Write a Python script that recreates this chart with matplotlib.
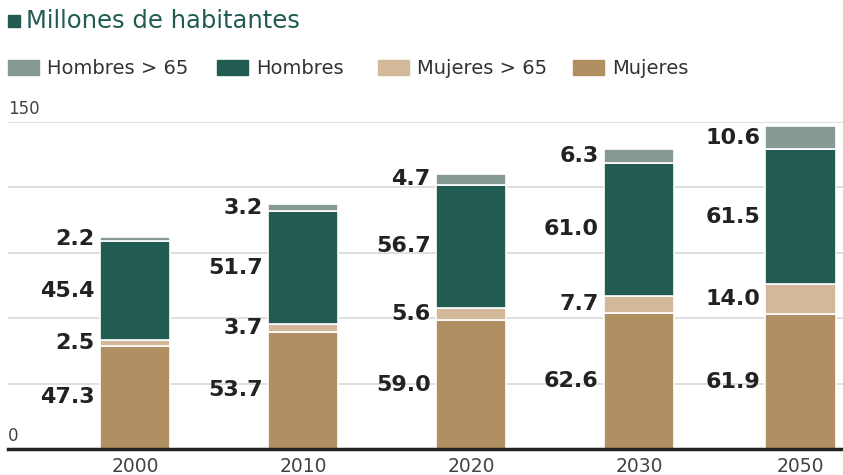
import numpy as np
import matplotlib.pyplot as plt
from matplotlib.patches import Rectangle

years = ["2000", "2010", "2020", "2030", "2050"]
mujeres = [47.3, 53.7, 59.0, 62.6, 61.9]
mujeres_65 = [2.5, 3.7, 5.6, 7.7, 14.0]
hombres = [45.4, 51.7, 56.7, 61.0, 61.5]
hombres_65 = [2.2, 3.2, 4.7, 6.3, 10.6]

series = [mujeres, mujeres_65, hombres, hombres_65]
names = ["Mujeres", "Mujeres > 65", "Hombres", "Hombres > 65"]
colors = ["#b08f62", "#d2b99a", "#215b52", "#869a93"]

plt.rcParams['font.family'] = ['DejaVu Sans']

fig = plt.figure(figsize=(8.43, 4.75), dpi=100)
ax = fig.add_axes([8/843, (475-449)/475, 835/843, (449-122)/475])

pos = np.array([0, 1, 2, 3, 3.96])
w = 0.42
bottom = np.zeros(len(years))
for vals, c in zip(series, colors):
    vals = np.array(vals)
    ax.bar(pos, vals, w, bottom=bottom, color=c, edgecolor="white", linewidth=1.2, zorder=3)
    for x, b, v in zip(pos, bottom, vals):
        ax.text(x - w/2 - 0.03, b + v/2, f"{v:.1f}", ha="right", va="center",
                fontsize=16, fontweight="bold", color="#222222", zorder=4)
    bottom += vals

ax.set_ylim(0, 150)
ax.set_xlim(-0.756, 4.214)
ax.set_yticks([0, 30, 60, 90, 120, 150])
ax.grid(axis="y", color="#d9d9d9", linewidth=1.2, zorder=0)
ax.tick_params(axis="y", length=0, labelleft=False)
ax.set_xticks(pos)
ax.set_xticklabels(years, fontsize=13.5, color="#444444")
ax.tick_params(axis="x", length=0, pad=6)
for s in ["top", "right", "left"]:
    ax.spines[s].set_visible(False)
ax.spines["bottom"].set_linewidth(2.5)
ax.spines["bottom"].set_color("#222222")
ax.spines["bottom"].set_zorder(5)

ax.text(0, 152, "150", transform=ax.get_yaxis_transform(), fontsize=12, color="#444444", va="bottom")
ax.text(0, 2, "0", transform=ax.get_yaxis_transform(), fontsize=12, color="#444444", va="bottom")

# title
fig.patches.append(Rectangle((8/843, 1-27/475), 12/843, 12/475, transform=fig.transFigure,
                             color="#215b52"))
fig.text(26/843, 1-21/475, "Millones de habitantes", fontsize=17.5, color="#215b52", va="center")

# legend
leg_x = [8, 217, 378, 573]
for i, x in enumerate(leg_x):
    k = 3 - i
    fig.patches.append(Rectangle((x/843, 1-75/475), 31/843, 15/475, transform=fig.transFigure,
                                 color=colors[k]))
    fig.text((x+39)/843, 1-68/475, names[k], fontsize=14, color="#333333", va="center")

fig.savefig("out.png", dpi=100)
